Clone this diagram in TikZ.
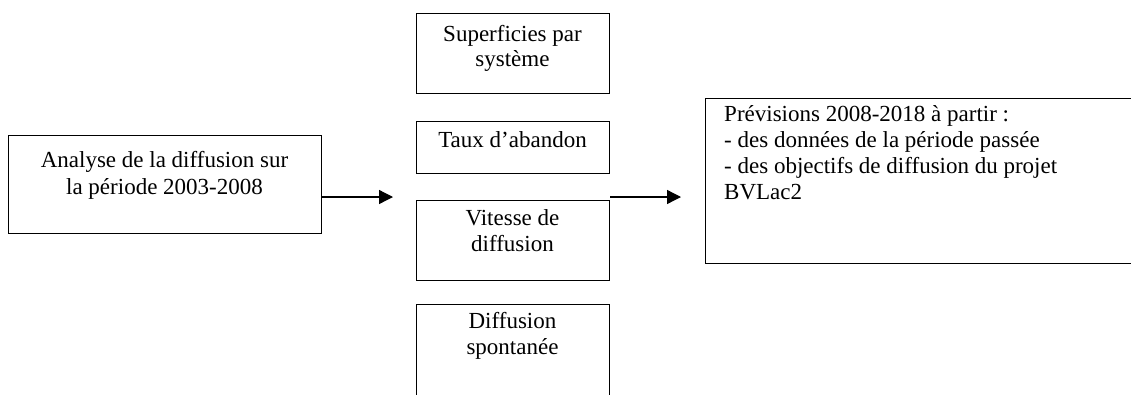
\documentclass[tikz,border=0pt]{standalone}
\usepackage{fontspec}
\setmainfont{Liberation Serif}
\usetikzlibrary{arrows.meta}
\tikzset{
  box/.style={draw=black, line width=1.3pt, fill=none, rectangle, inner sep=0pt, anchor=north west},
  txt/.style={anchor=base, inner sep=0pt, font=\fontsize{23}{27}\selectfont},
  ltxt/.style={anchor=base west, inner sep=0pt, font=\fontsize{23}{27}\selectfont},
  arr/.style={draw=black, line width=1.3pt, -{Triangle[length=14pt,width=14pt]}}
}
\begin{document}
\begin{tikzpicture}[x=1pt,y=-1pt]
\useasboundingbox (0,0) rectangle (1131,394);
\clip (0,0) rectangle (1131,394);
% boxes
\node[box, minimum width=313pt, minimum height=98pt] (analyse) at (8,135) {};
\node[box, minimum width=193pt, minimum height=80pt] (superf) at (416,13) {};
\node[box, minimum width=193pt, minimum height=52pt] (taux) at (416,121) {};
\node[box, minimum width=193pt, minimum height=80pt] (vitesse) at (416,200) {};
\node[box, minimum width=193pt, minimum height=120pt] (spont) at (416,304) {};
\node[box, minimum width=460pt, minimum height=165pt] (prev) at (705,98) {};
% texts
\node[txt] (t1a) at (164.5,167) {Analyse de la diffusion sur};
\node[txt] (t1b) at (164.5,194) {la période 2003-2008};
\node[txt] (t2a) at (512.5,41) {Superficies par};
\node[txt] (t2b) at (512.5,66) {système};
\node[txt] (t3) at (512.5,147) {Taux d’abandon};
\node[txt] (t4a) at (512.5,225) {Vitesse de};
\node[txt] (t4b) at (512.5,251) {diffusion};
\node[txt] (t5a) at (512.5,328) {Diffusion};
\node[txt] (t5b) at (512.5,354) {spontanée};
\node[ltxt] (t6a) at (724,121) {Prévisions 2008-2018 à partir :};
\node[ltxt] (t6b) at (724,147) {- des données de la période passée};
\node[ltxt] (t6c) at (724,173) {- des objectifs de diffusion du projet};
\node[ltxt] (t6d) at (724,199) {BVLac2};
% connectors
\coordinate (e1) at (393,197);
\coordinate (e2) at (681,197);
\draw[arr] (analyse.east |- e1) -- (e1);
\draw[arr] (vitesse.north east |- e2) -- (e2);
\end{tikzpicture}
\end{document}
